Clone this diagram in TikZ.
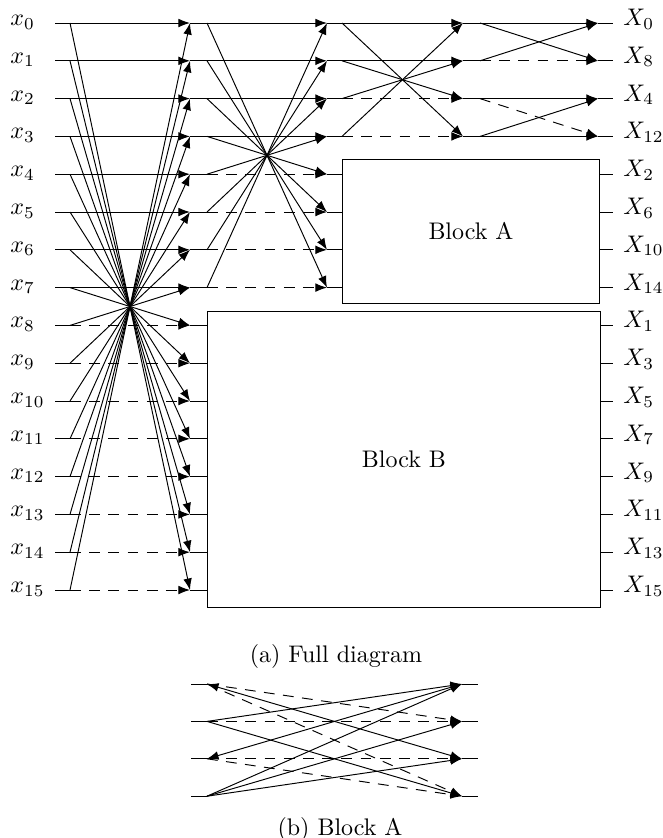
\documentclass[tikz,border=0pt]{standalone}
\usepackage{amsmath}
\usetikzlibrary{arrows.meta, positioning}

\begin{document}
\begin{tikzpicture}[x=0.41667pt, y=-0.41667pt,
    wire/.style={-{Latex}},
    wired/.style={-{Latex}, dash pattern=on 4.5pt off 3.5pt},
    lbl/.style={anchor=base west, inner sep=0pt},
    blk/.style={draw, inner sep=0pt, anchor=north west}]
    \useasboundingbox (0,0) rectangle (663,838);

    % Rows of the full diagram
    \foreach \i in {0,...,15} {
        \coordinate (in\i) at (55,{23+37.8*\i});
        \coordinate (p\i) at (70,{23+37.8*\i});
        \coordinate (q\i) at (190,{23+37.8*\i});
        \coordinate (o\i) at (613,{23+37.8*\i});
        \node[lbl] (x\i) at (10,{25.5+37.8*\i}) {$x_{\i}$};
    }
    \foreach \i in {0,...,7} {
        \coordinate (r\i) at (207,{23+37.8*\i});
        \coordinate (t\i) at (327,{23+37.8*\i});
    }
    \foreach \i in {0,...,3} {
        \coordinate (u\i) at (342,{23+37.8*\i});
        \coordinate (v\i) at (463,{23+37.8*\i});
        \coordinate (w\i) at (480,{23+37.8*\i});
        \coordinate (z\i) at (598,{23+37.8*\i});
    }
    \foreach \k/\n in {0/0,1/8,2/4,3/12,4/2,5/6,6/10,7/14,8/1,9/3,10/5,11/7,12/9,13/11,14/13,15/15}
        \node[lbl] (X\k) at (623,{25.5+37.8*\k}) {$X_{\n}$};

    % Blocks
    \node[blk, minimum width=107.1pt, minimum height=60pt] (blocka) at (342,159) {Block A};
    \node[blk, minimum width=163.75pt, minimum height=123.3pt] (blockb) at (207,311) {Block B};

    % Stage 1
    \foreach \i in {0,...,15} {
        \pgfmathtruncatemacro{\j}{15-\i}
        \draw[wire] (p\i) -- (q\j);
    }
    \foreach \i in {0,...,7} \draw[wire] (in\i) -- (q\i);
    \foreach \i in {8,...,15} {
        \draw (in\i) -- (p\i);
        \draw[wired] (p\i) -- (q\i);
        \draw (q\i) -- (q\i -| blockb.west);
        \draw (blockb.east |- o\i) -- (o\i);
    }

    % Stage 2
    \foreach \i in {0,...,7} {
        \pgfmathtruncatemacro{\j}{7-\i}
        \draw (q\i) -- (r\i);
        \draw[wire] (r\i) -- (t\j);
    }
    \foreach \i in {0,...,3} \draw[wire] (r\i) -- (t\i);
    \foreach \i in {4,...,7} {
        \draw[wired] (r\i) -- (t\i);
        \draw (t\i) -- (t\i -| blocka.west);
        \draw (blocka.east |- o\i) -- (o\i);
    }

    % Stage 3
    \foreach \i in {0,...,3} {
        \pgfmathtruncatemacro{\j}{3-\i}
        \draw (t\i) -- (u\i);
        \draw[wire] (u\i) -- (v\j);
        \draw (v\i) -- (w\i);
        \draw (z\i) -- (o\i);
    }
    \foreach \i in {0,1} \draw[wire] (u\i) -- (v\i);
    \foreach \i in {2,3} \draw[wired] (u\i) -- (v\i);

    % Stage 4
    \draw[wire] (w0) -- (z0);
    \draw[wire] (w0) -- (z1);
    \draw[wire] (w1) -- (z0);
    \draw[wired] (w1) -- (z1);
    \draw[wire] (w2) -- (z2);
    \draw[wired] (w2) -- (z3);
    \draw[wire] (w3) -- (z2);
    \draw[wire] (w3) -- (z3);

    \node (capa) at (336,656) {(a) Full diagram};

    % Block A in detail
    \foreach \k in {0,...,3} {
        \coordinate (ba\k) at (191,{684+37.4*\k});
        \coordinate (bb\k) at (207,{684+37.4*\k});
        \coordinate (bc\k) at (462,{684+37.4*\k});
        \coordinate (bd\k) at (478,{684+37.4*\k});
        \draw (ba\k) -- (bb\k);
        \draw (bc\k) -- (bd\k);
    }
    \draw[{Latex}-{Latex}] (bb0) -- (bc2);
    \draw[{Latex}-{Latex}] (bb2) -- (bc0);
    \draw[wire] (bb1) -- (bc0);
    \draw[wire] (bb1) -- (bc3);
    \foreach \k in {0,1,2} \draw[wire] (bb3) -- (bc\k);
    \draw[wired] (bb0) -- (bc1);
    \draw[wired] (bb0) -- (bc3);
    \draw[wired] (bb1) -- (bc1);
    \draw[wired] (bb2) -- (bc2);
    \draw[wired] (bb2) -- (bc3);

    \node (capb) at (340,829) {(b) Block A};
\end{tikzpicture}
\end{document}
